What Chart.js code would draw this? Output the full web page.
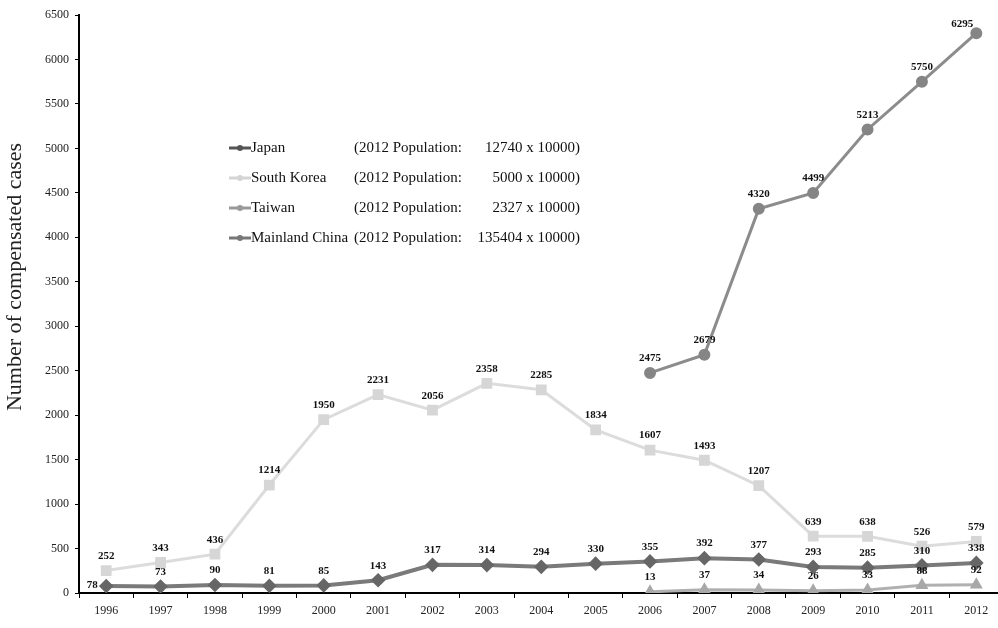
<!DOCTYPE html>
<html>
<head>
<meta charset="utf-8">
<script src="https://cdn.jsdelivr.net/npm/chart.js@4"></script>
<style>
  html, body { margin: 0; padding: 0; background: #fff; overflow: hidden; }
  #wrap { width: 998px; height: 628px; overflow: hidden; }
</style>
</head>
<body>
<div id="wrap"><canvas id="casesChart" width="1012" height="628"></canvas></div>
<script>
// Chart data
const years = ['1996', '1997', '1998', '1999', '2000', '2001', '2002', '2003', '2004',
    '2005', '2006', '2007', '2008', '2009', '2010', '2011', '2012'];
const japan = [78, 73, 90, 81, 85, 143, 317, 314, 294, 330, 355, 392, 377, 293, 285, 310, 338];
const southKorea = [252, 343, 436, 1214, 1950, 2231, 2056, 2358, 2285, 1834, 1607, 1493, 1207, 639, 638, 526, 579];
const taiwan = [null, null, null, null, null, null, null, null, null, null, 13, 37, 34, 26, 33, 88, 92];
const mainlandChina = [null, null, null, null, null, null, null, null, null, null, 2475, 2679, 4320, 4499, 5213, 5750, 6295];
const seriesNames = ['Japan', 'South Korea', 'Taiwan', 'Mainland China'];
const population2012 = ['12740', '5000', '2327', '135404'];
const yTicks = [0, 500, 1000, 1500, 2000, 2500, 3000, 3500, 4000, 4500, 5000, 5500, 6000, 6500];
const yTitle = 'Number of compensated cases';

const serif = "'Liberation Serif', 'DejaVu Serif', serif";

// value labels above each point
const valueLabels = {
    id: 'valueLabels',
    afterDatasetsDraw(chart) {
        const c = chart.ctx;
        c.save();
        c.font = 'bold 11px ' + serif;
        c.fillStyle = '#111';
        c.textAlign = 'center';
        c.textBaseline = 'bottom';
        chart.data.datasets.forEach((ds, i) => {
            const meta = chart.getDatasetMeta(i);
            meta.data.forEach((pt, j) => {
                const v = ds.data[j];
                if (v === null) return;
                let dx = 0, dy = -9;
                if (i === 0 && j === 0) { dx = -14; dy = 5; }
                if (i === 3 && j === 16) { dx = -14; dy = -4; }
                c.fillText(String(v), pt.x + dx, pt.y + dy);
            });
        });
        c.restore();
    }
};

// legend drawn inside the plot, and the rotated y title
const innerLegend = {
    id: 'innerLegend',
    afterDraw(chart) {
        const c = chart.ctx;
        c.save();
        c.font = '15px ' + serif;
        c.textBaseline = 'middle';
        chart.data.datasets.forEach((ds, i) => {
            const y = 148 + i * 30;
            c.strokeStyle = ds.legendColor;
            c.lineWidth = 3;
            c.beginPath();
            c.moveTo(229, y);
            c.lineTo(251, y);
            c.stroke();
            c.fillStyle = ds.legendColor;
            c.beginPath();
            c.arc(240, y, 3, 0, Math.PI * 2);
            c.fill();
            c.fillStyle = '#111';
            c.textAlign = 'left';
            c.fillText(seriesNames[i], 251, y);
            c.fillText('(2012 Population:', 354, y);
            c.textAlign = 'right';
            c.fillText(population2012[i] + ' x 10000)', 580, y);
        });
        c.restore();

        c.save();
        c.translate(15, 277);
        c.rotate(-Math.PI / 2);
        c.font = '22px ' + serif;
        c.fillStyle = '#222';
        c.textAlign = 'center';
        c.textBaseline = 'middle';
        c.fillText(yTitle, 0, 0);
        c.restore();
    }
};

const ctx = document.getElementById('casesChart').getContext('2d');
const casesChart = new Chart(ctx, {
    type: 'line',
    data: {
        labels: years,
        datasets: [{
            label: seriesNames[0],
            data: japan,
            borderColor: '#7a7a7a',
            pointBackgroundColor: '#666',
            pointBorderColor: '#666',
            legendColor: '#555',
            pointStyle: 'rectRot',
            pointRadius: 4.5,
            borderWidth: 4
        }, {
            label: seriesNames[1],
            data: southKorea,
            borderColor: '#dcdcdc',
            pointBackgroundColor: '#d6d6d6',
            pointBorderColor: '#d6d6d6',
            legendColor: '#d4d4d4',
            pointStyle: 'rect',
            pointRadius: 5.5,
            borderWidth: 3
        }, {
            label: seriesNames[2],
            data: taiwan,
            borderColor: '#b0b0b0',
            pointBackgroundColor: '#a8a8a8',
            pointBorderColor: '#a8a8a8',
            legendColor: '#999',
            pointStyle: 'triangle',
            pointRadius: 4.5,
            borderWidth: 3
        }, {
            label: seriesNames[3],
            data: mainlandChina,
            borderColor: '#8c8c8c',
            pointBackgroundColor: '#858585',
            pointBorderColor: '#858585',
            legendColor: '#777',
            pointStyle: 'circle',
            pointRadius: 4.5,
            borderWidth: 3
        }]
    },
    options: {
        responsive: false,
        animation: false,
        layout: { padding: { top: 15, right: 0, bottom: 0, left: 0 } },
        plugins: {
            legend: { display: false },
            tooltip: { enabled: false }
        },
        elements: { line: { tension: 0 } },
        scales: {
            x: {
                offset: true,
                grid: {
                    display: true,
                    drawOnChartArea: false,
                    offset: true,
                    tickLength: 5,
                    color: '#000',
                    lineWidth: 1
                },
                border: { color: '#000', width: 2 },
                ticks: {
                    font: { family: serif, size: 12 },
                    color: '#222',
                    maxRotation: 0,
                    autoSkip: false,
                    padding: 6
                },
                afterFit(scale) { scale.height = 35; }
            },
            y: {
                min: 0,
                max: 6500,
                afterBuildTicks(scale) {
                    scale.ticks = yTicks.map(v => ({ value: v }));
                },
                grid: {
                    display: true,
                    drawOnChartArea: false,
                    tickLength: 4,
                    color: '#000'
                },
                border: { color: '#000', width: 2 },
                ticks: {
                    font: { family: serif, size: 12 },
                    color: '#222',
                    padding: 6,
                    callback: v => String(v)
                },
                afterFit(scale) { scale.width = 79; }
            }
        }
    },
    plugins: [valueLabels, innerLegend]
});
</script>
</body>
</html>
